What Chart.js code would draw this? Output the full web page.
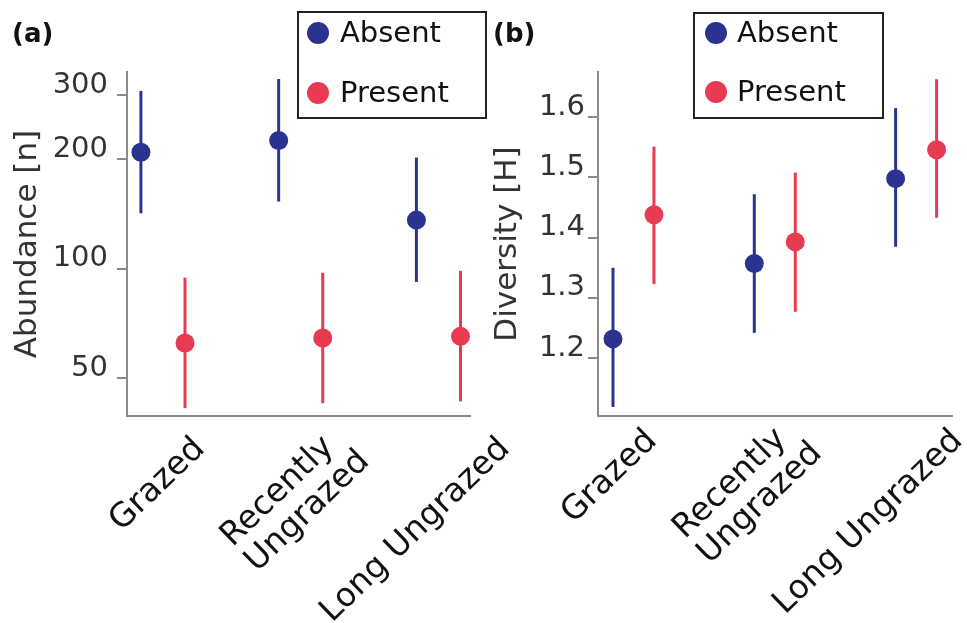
<!DOCTYPE html>
<html lang="en">
<head>
<meta charset="UTF-8">
<title>Abundance and diversity by grazing history</title>
<style>
  body { margin: 0; background: #fff; }
  #wrap { position: relative; width: 967px; height: 623px; overflow: hidden; }
  canvas { position: absolute; top: 0; }
  #chartA { left: 0; }
  #chartB { left: 488px; }
</style>
</head>
<body>
<div id="wrap">
  <canvas id="chartA" width="530" height="623"></canvas>
  <canvas id="chartB" width="479" height="623"></canvas>
</div>

<script src="https://cdn.jsdelivr.net/npm/chart.js"></script>
<script>
// categories on the x axis (second one is split over two lines)
const categories = ['Grazed', ['Recently', 'Ungrazed'], 'Long Ungrazed'];
const seriesNames = ['Absent', 'Present'];

// (a) abundance: mean, lower and upper end of the bar
const abundAbsent = [209, 225, 136];
const abundAbsentLo = [142, 153, 92];
const abundAbsentHi = [308, 332, 202];
const abundPresent = [62.5, 64.5, 65.2];
const abundPresentLo = [41.4, 42.7, 43.2];
const abundPresentHi = [94.5, 97.5, 98.7];
const abundTicks = [50, 100, 200, 300];

// (b) diversity (Shannon H)
const divAbsent = [1.232, 1.357, 1.498];
const divAbsentLo = [1.119, 1.242, 1.385];
const divAbsentHi = [1.350, 1.472, 1.615];
const divPresent = [1.438, 1.393, 1.546];
const divPresentLo = [1.323, 1.277, 1.433];
const divPresentHi = [1.551, 1.508, 1.663];
const divTicks = [1.2, 1.3, 1.4, 1.5, 1.6];

const BLUE = '#2b3390';
const RED = '#e83a50';
const AXIS = '#8a8a8a';
const FONT = "'DejaVu Sans', sans-serif";

// vertical interval lines, drawn under the dots
const errorBars = {
  id: 'errorBars',
  beforeDatasetsDraw(chart) {
    const {ctx, scales: {x, y}} = chart;
    ctx.save();
    ctx.lineWidth = 3;
    chart.data.datasets.forEach(ds => {
      ctx.strokeStyle = ds.backgroundColor;
      ds.data.forEach((p, i) => {
        const px = x.getPixelForValue(p.x);
        ctx.beginPath();
        ctx.moveTo(px, y.getPixelForValue(ds.lo[i]));
        ctx.lineTo(px, y.getPixelForValue(ds.hi[i]));
        ctx.stroke();
      });
    });
    ctx.restore();
  }
};

// rotated category names, placed by the 'xl' axis; lines of a
// two-line name are left aligned and the block is centred on the tick
const catLabels = {
  id: 'catLabels',
  afterDraw(chart, args, o) {
    const s = chart.scales.xl;
    const ctx = chart.ctx;
    ctx.save();
    ctx.font = '33px ' + FONT;
    ctx.fillStyle = '#111';
    ctx.textBaseline = 'middle';
    ctx.textAlign = 'left';
    categories.forEach((c, i) => {
      const lines = [].concat(c);
      const w = Math.max(...lines.map(l => ctx.measureText(l).width));
      ctx.save();
      ctx.translate(s.getPixelForValue(i), chart.chartArea.bottom + o.pad);
      ctx.rotate(-o.angle * Math.PI / 180);
      lines.forEach((l, j) => {
        ctx.fillText(l, -w, (j - (lines.length - 1) / 2) * o.lineHeight);
      });
      ctx.restore();
    });
    ctx.restore();
  }
};

// boxed legend in the top right
const boxLegend = {
  id: 'boxLegend',
  afterDraw(chart, args, o) {
    const ctx = chart.ctx;
    ctx.save();
    ctx.lineWidth = 2;
    ctx.strokeStyle = '#222';
    ctx.strokeRect(o.x, o.y, o.w, o.h);
    ctx.font = '29px ' + FONT;
    ctx.textBaseline = 'middle';
    chart.data.datasets.forEach((ds, i) => {
      const cy = o.rows[i];
      ctx.fillStyle = ds.backgroundColor;
      ctx.beginPath();
      ctx.arc(o.dotX, cy, 11, 0, Math.PI * 2);
      ctx.fill();
      ctx.fillStyle = '#111';
      ctx.fillText(ds.label, o.textX, cy + 1);
    });
    ctx.restore();
  }
};

// "(a)" / "(b)"
const panelTag = {
  id: 'panelTag',
  afterDraw(chart, args, o) {
    const ctx = chart.ctx;
    ctx.save();
    ctx.font = 'bold 26px ' + FONT;
    ctx.fillStyle = '#111';
    ctx.textBaseline = 'middle';
    ctx.fillText(o.text, o.x, o.y);
    ctx.restore();
  }
};

function panel(id, cfg) {
  const mk = (name, vals, lo, hi, color, shift) => ({
    label: name,
    data: vals.map((v, i) => ({x: i + shift, y: v})),
    lo: lo,
    hi: hi,
    backgroundColor: color,
    borderWidth: 0,
    pointRadius: 9.5,
    pointHoverRadius: 9.5
  });

  return new Chart(document.getElementById(id), {
    type: 'scatter',
    data: {
      datasets: [
        mk(seriesNames[0], cfg.absent, cfg.absentLo, cfg.absentHi, BLUE, -cfg.dodge),
        mk(seriesNames[1], cfg.present, cfg.presentLo, cfg.presentHi, RED, cfg.dodge)
      ]
    },
    options: {
      responsive: false,
      animation: false,
      layout: {padding: {left: 0, right: cfg.padRight, top: 72, bottom: 0}},
      plugins: {
        legend: {display: false},
        tooltip: {enabled: false},
        boxLegend: cfg.legend,
        panelTag: cfg.tag,
        catLabels: {pad: cfg.lblPad, angle: 44, lineHeight: 35}
      },
      scales: {
        x: {
          type: 'linear',
          min: cfg.xMin,
          max: cfg.xMax,
          weight: 0,
          ticks: {display: false},
          grid: {drawOnChartArea: false, drawTicks: false},
          border: {color: AXIS, width: 2},
          afterFit: s => { s.height = 0; s.paddingLeft = 0; s.paddingRight = 0; }
        },
        // second bottom axis: only gives the positions of the category names
        xl: {
          type: 'linear',
          position: 'bottom',
          min: cfg.lblMin,
          max: cfg.lblMax,
          weight: 1,
          ticks: {display: false},
          grid: {display: false, drawTicks: false},
          border: {display: false},
          afterFit: s => { s.height = 207; s.paddingLeft = 0; s.paddingRight = 0; }
        },
        y: {
          type: cfg.yType,
          min: cfg.yMin,
          max: cfg.yMax,
          afterBuildTicks: s => { s.ticks = cfg.yTicks.map(v => ({value: v})); },
          ticks: {
            callback: cfg.fmt,
            autoSkip: false,
            color: '#333',
            padding: cfg.tickPad,
            labelOffset: -10,
            font: {family: FONT, size: 29}
          },
          grid: {drawOnChartArea: false, drawTicks: true, tickLength: 10, color: AXIS, lineWidth: 2},
          border: {color: AXIS, width: 2},
          title: {
            display: true,
            text: cfg.yTitle,
            color: '#333',
            font: {family: FONT, size: 31},
            padding: {top: cfg.titlePad, bottom: 0}
          },
          afterFit: s => { s.width = cfg.yWidth; s.paddingTop = 0; s.paddingBottom = 0; }
        }
      }
    },
    plugins: [errorBars, catLabels, boxLegend, panelTag]
  });
}

panel('chartA', {
  absent: abundAbsent, absentLo: abundAbsentLo, absentHi: abundAbsentHi,
  present: abundPresent, presentLo: abundPresentLo, presentHi: abundPresentHi,
  dodge: 0.16, xMin: -0.261, xMax: 2.229,
  lblMin: -0.479, lblMax: 1.770, lblPad: 28,
  yType: 'logarithmic', yMin: 39.4, yMax: 347, yTicks: abundTicks,
  fmt: v => String(v),
  yTitle: 'Abundance [n]', titlePad: 9, tickPad: 9, yWidth: 127, padRight: 60,
  legend: {x: 298, y: 12, w: 188, h: 106, dotX: 318, rows: [33, 93], textX: 340},
  tag: {text: '(a)', x: 12, y: 35}
});

panel('chartB', {
  absent: divAbsent, absentLo: divAbsentLo, absentHi: divAbsentHi,
  present: divPresent, presentLo: divPresentLo, presentHi: divPresentHi,
  dodge: 0.145, xMin: -0.251, xMax: 2.254,
  lblMin: -0.353, lblMax: 1.961, lblPad: 20,
  yType: 'linear', yMin: 1.104, yMax: 1.675, yTicks: divTicks,
  fmt: v => v.toFixed(1),
  yTitle: 'Diversity [H]', titlePad: 1, tickPad: 3, yWidth: 110, padRight: 15,
  legend: {x: 206, y: 13, w: 189, h: 105, dotX: 228, rows: [33, 92], textX: 249},
  tag: {text: '(b)', x: 5, y: 35}
});
</script>
</body>
</html>
